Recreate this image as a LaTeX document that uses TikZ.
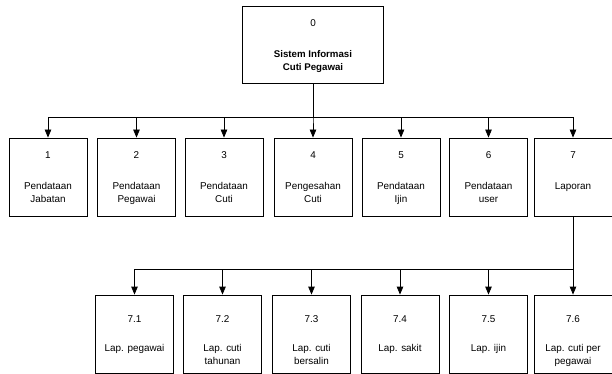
\documentclass[tikz,border=0pt]{standalone}
\usepackage{fontspec}
\setmainfont{Liberation Sans}
\usetikzlibrary{arrows.meta}
\begin{document}
\begin{tikzpicture}[x=1pt,y=-1pt,
  box/.style={draw, line width=0.8pt, minimum width=78pt, minimum height=78pt, inner sep=0pt},
  txt/.style={anchor=north, inner sep=0pt, align=center, font=\fontsize{9.9}{13}\selectfont},
  btxt/.style={txt, font=\fontsize{9.7}{12.7}\selectfont\bfseries},
  wire/.style={line width=0.8pt},
  arr/.style={wire, -{Triangle[length=8pt,width=6.5pt]}}]
\useasboundingbox (0,0) rectangle (612,374);
% top
\node[box, minimum width=141pt, minimum height=77pt] (top) at (313,44.5) {};
\node[txt] (topnum) at ([yshift=-14pt]top.north) {0};
\node[btxt] (toplbl) at ([yshift=-45pt]top.north) {Sistem Informasi\\Cuti Pegawai};
% level 1
\node[box] (n1) at (48,177) {};
\node[box] (n2) at (136.5,177) {};
\node[box] (n3) at (224,177) {};
\node[box] (n4) at (313,177) {};
\node[box] (n5) at (401,177) {};
\node[box] (n6) at (488.5,177) {};
\node[box] (n7) at (573,177) {};
\foreach \n/\num/\lbl in {n1/1/{Pendataan\\Jabatan}, n2/2/{Pendataan\\Pegawai}, n3/3/{Pendataan\\Cuti}, n4/4/{Pengesahan\\Cuti}, n5/5/{Pendataan\\Ijin}, n6/6/{Pendataan\\user}, n7/7/{Laporan}}{
  \node[txt] (\n num) at ([yshift=-14pt]\n.north) {\num};
  \node[txt] (\n lbl) at ([yshift=-45pt]\n.north) {\lbl};
}
\coordinate (bus1) at (313,117);
\foreach \n in {n1,n2,n3,n4,n5,n6,n7}{
  \draw[arr] (top.south) -- (top.south |- bus1) -| (\n.north);
}
% level 2
\node[box] (m1) at (134.5,334) {};
\node[box] (m2) at (222.5,334) {};
\node[box] (m3) at (311.5,334) {};
\node[box] (m4) at (400,334) {};
\node[box] (m5) at (488.5,334) {};
\node[box] (m6) at (573,334) {};
\foreach \n/\num/\lbl in {m1/7.1/{Lap. pegawai}, m2/7.2/{Lap. cuti\\tahunan}, m3/7.3/{Lap. cuti\\bersalin}, m4/7.4/{Lap. sakit}, m5/7.5/{Lap. ijin}, m6/7.6/{Lap. cuti per\\pegawai}}{
  \node[txt] (\n num) at ([yshift=-21pt]\n.north) {\num};
  \node[txt] (\n lbl) at ([yshift=-50pt]\n.north) {\lbl};
}
\coordinate (bus2) at (573,269);
\foreach \n in {m1,m2,m3,m4,m5,m6}{
  \draw[arr] (n7.south) -- (n7.south |- bus2) -| (\n.north);
}
\end{tikzpicture}
\end{document}
